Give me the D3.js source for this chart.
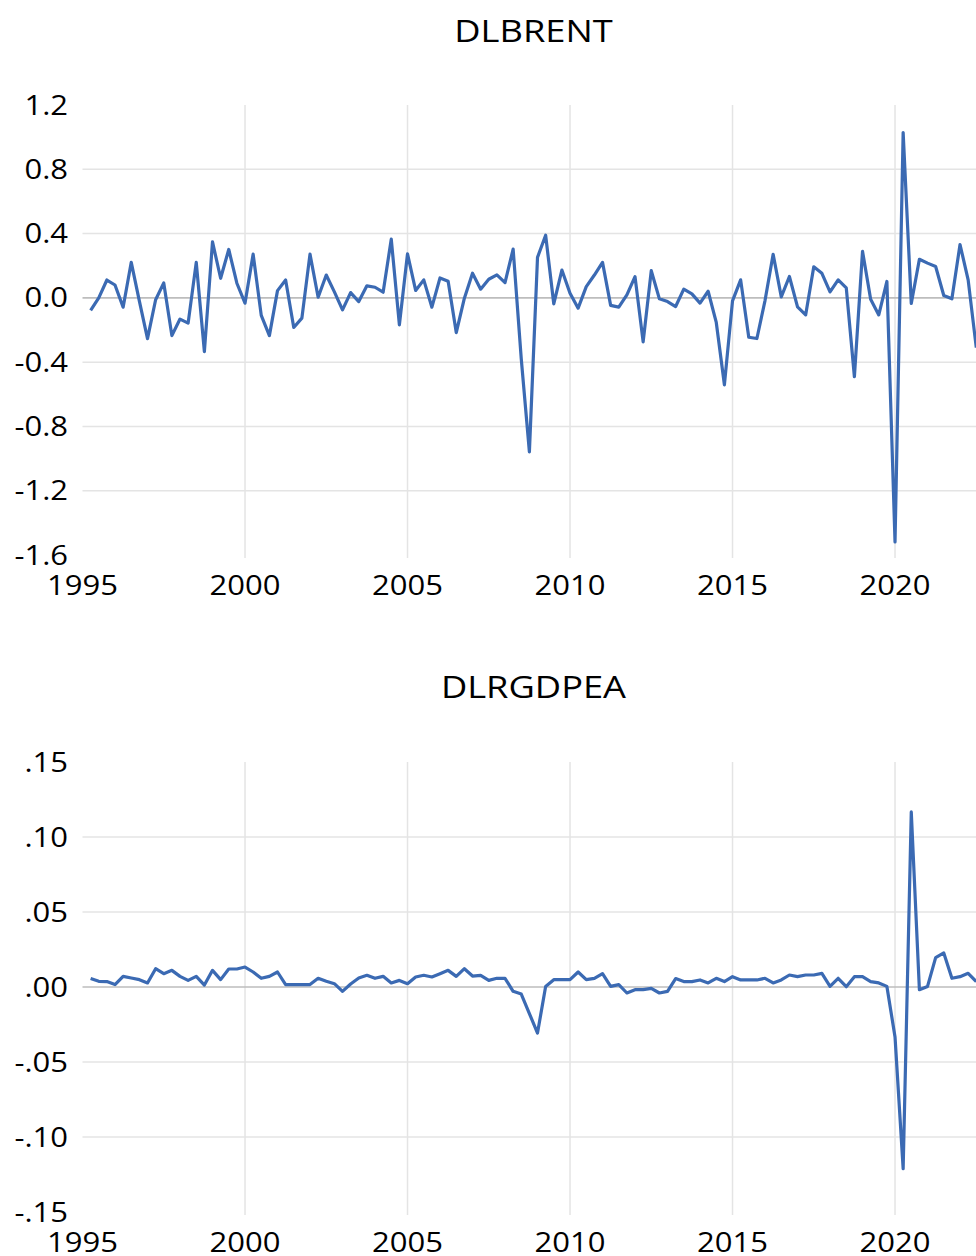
<!DOCTYPE html>
<html>
<head>
<meta charset="utf-8">
<script src="https://cdn.jsdelivr.net/npm/d3@7"></script>
<style>
  html, body { margin: 0; padding: 0; background: #ffffff; }
  svg { display: block; }
  text { font-family: "Open Sans", "Noto Sans", sans-serif; fill: #000; }
</style>
</head>
<body>
<svg id="chart" width="976" height="1256"></svg>
<script>
// Quarterly log differences, first observation 1995Q2
const startYear = 1995.25;

const dlbrent = [
  -0.078, 0.00, 0.111, 0.080, -0.058, 0.221, -0.02, -0.254, -0.012, 0.093,
  -0.235, -0.132, -0.157, 0.221, -0.334, 0.348, 0.122, 0.301, 0.091, -0.033,
  0.272, -0.109, -0.235, 0.045, 0.111, -0.184, -0.126, 0.272, 0.004, 0.142,
  0.037, -0.075, 0.033, -0.023, 0.075, 0.066, 0.035, 0.365, -0.168, 0.274,
  0.046, 0.112, -0.058, 0.124, 0.104, -0.216, -0.002, 0.153, 0.054, 0.116,
  0.143, 0.095, 0.303, -0.38, -0.958, 0.252, 0.39, -0.037, 0.173, 0.029,
  -0.064, 0.07, 0.142, 0.221, -0.047, -0.058, 0.019, 0.132, -0.274, 0.169,
  -0.006, -0.023, -0.054, 0.054, 0.025, -0.033, 0.041, -0.153, -0.541, -0.019,
  0.112, -0.245, -0.253, -0.017, 0.271, 0.006, 0.133, -0.056, -0.106, 0.193,
  0.153, 0.037, 0.112, 0.062, -0.491, 0.29, -0.008, -0.106, 0.102, -1.519,
  1.028, -0.035, 0.24, 0.216, 0.195, 0.015, -0.006, 0.332, 0.112, -0.31
];

const dlrgdpea = [
  0.0056, 0.0038, 0.0036, 0.0016, 0.0071, 0.0060, 0.0049, 0.0027, 0.0122, 0.0089,
  0.0111, 0.0071, 0.0044, 0.0071, 0.0013, 0.0111, 0.0049, 0.0120, 0.0120, 0.0133,
  0.0100, 0.0058, 0.0071, 0.0100, 0.0016, 0.0016, 0.0016, 0.0016, 0.0058, 0.0038,
  0.0022, -0.0029, 0.0020, 0.0060, 0.0078, 0.0058, 0.0071, 0.0027, 0.0044, 0.0022,
  0.0067, 0.0078, 0.0067, 0.0089, 0.0111, 0.0071, 0.0122, 0.0073, 0.0078, 0.0044,
  0.0058, 0.0058, -0.0029, -0.0047, -0.0177, -0.0307, 0.0004, 0.0049, 0.0049, 0.0049,
  0.0100, 0.0049, 0.0058, 0.0089, 0.0004, 0.0016, -0.0040, -0.0018, -0.0018, -0.0009,
  -0.0040, -0.0029, 0.0056, 0.0036, 0.0036, 0.0047, 0.0027, 0.0058, 0.0036, 0.0069,
  0.0047, 0.0047, 0.0047, 0.0058, 0.0027, 0.0047, 0.0080, 0.0069, 0.0080, 0.0080,
  0.0091, 0.0004, 0.0058, 0.0002, 0.0069, 0.0069, 0.0036, 0.0027, 0.0004, -0.0333,
  -0.1211, 0.1167, -0.0018, 0.0004, 0.0196, 0.0227, 0.0058, 0.0069, 0.0091, 0.0036
];

const yearTicks = [1995, 2000, 2005, 2010, 2015, 2020];
const brentTicks = [-1.6, -1.2, -0.8, -0.4, 0.0, 0.4, 0.8, 1.2];
const gdpTicks = [-0.15, -0.10, -0.05, 0.00, 0.05, 0.10, 0.15];

const fmtBrent = v => d3.format(".1f")(v).replace("\u2212", "-");
const fmtGdp = v => d3.format(".2f")(v).replace("\u2212", "-").replace(/^(-?)0\./, "$1.");

const svg = d3.select("#chart");
const lineColor = "#3b6ab3";
const textStretch = 1.17;
const fontSize = 26.5;
const titleSize = 31;

const x = d3.scaleLinear().domain([1995, 2022.75]).range([82.5, 984.4]);

function stretchedText(g, tx, ty, str, anchor, size) {
  g.append("text")
    .attr("transform", `translate(${tx},${ty}) scale(${textStretch},1)`)
    .attr("text-anchor", anchor)
    .attr("font-size", size)
    .text(str);
}

function panel(opts) {
  const { title, values, ticks, fmt, top, bottom, titleY } = opts;
  const y = d3.scaleLinear().domain([ticks[0], ticks[ticks.length - 1]]).range([bottom, top]);
  const g = svg.append("g");
  const [x0, x1] = x.range();

  // horizontal grid
  g.append("g").selectAll("line")
    .data(ticks.filter(t => t !== 0 && t !== ticks[0] && t !== ticks[ticks.length - 1]))
    .join("line")
    .attr("x1", x0).attr("x2", x1)
    .attr("y1", d => y(d)).attr("y2", d => y(d))
    .attr("stroke", "#e4e4e4").attr("stroke-width", 1.5);

  // vertical grid
  g.append("g").selectAll("line")
    .data(yearTicks.filter(t => t > 1995))
    .join("line")
    .attr("x1", d => x(d)).attr("x2", d => x(d))
    .attr("y1", top).attr("y2", bottom + 3)
    .attr("stroke", "#e4e4e4").attr("stroke-width", 1.5);

  // zero line
  g.append("line")
    .attr("x1", x0).attr("x2", x1)
    .attr("y1", y(0)).attr("y2", y(0))
    .attr("stroke", "#bdbdbd").attr("stroke-width", 1.6);

  // series
  const pts = values.map((v, i) => [startYear + i * 0.25, v]);
  g.append("path")
    .datum(pts)
    .attr("fill", "none")
    .attr("stroke", lineColor)
    .attr("stroke-width", 3.2)
    .attr("stroke-linejoin", "round")
    .attr("d", d3.line().x(d => x(d[0])).y(d => y(d[1])));

  // y tick labels
  ticks.forEach(t => stretchedText(g, 68, y(t) + fontSize * 0.36, fmt(t), "end", fontSize));

  // x tick labels
  yearTicks.forEach(t => stretchedText(g, x(t), bottom + 40, String(t), "middle", fontSize));

  // title
  stretchedText(g, (x0 + x1) / 2, titleY, title, "middle", titleSize);
}

panel({ title: "DLBRENT", values: dlbrent, ticks: brentTicks, fmt: fmtBrent,
        top: 105, bottom: 555, titleY: 42 });
panel({ title: "DLRGDPEA", values: dlrgdpea, ticks: gdpTicks, fmt: fmtGdp,
        top: 762, bottom: 1212, titleY: 698 });
</script>
</body>
</html>
